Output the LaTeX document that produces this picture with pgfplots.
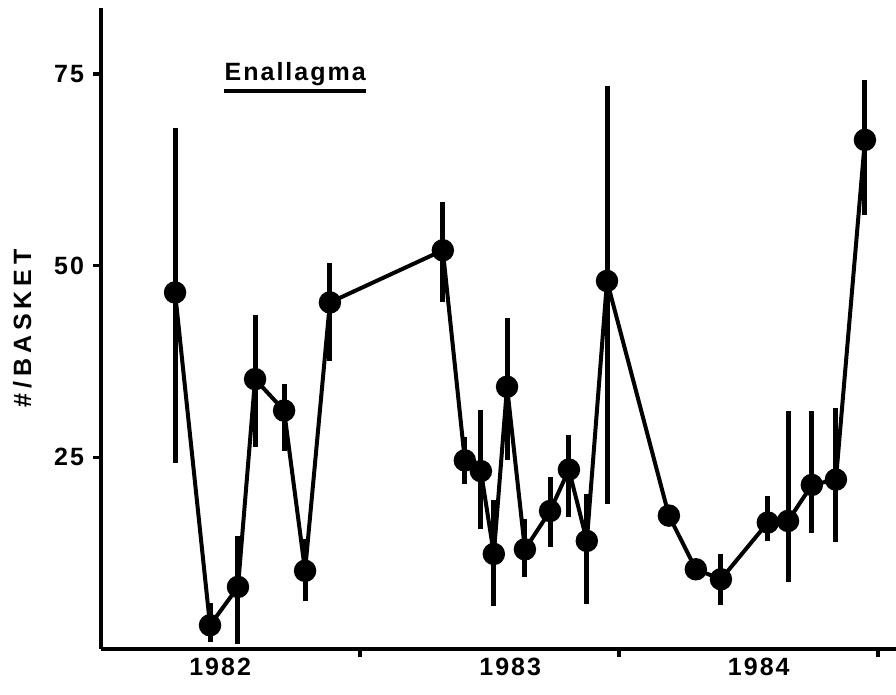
\documentclass[border=0pt]{standalone}
\usepackage{fontspec}
\setmainfont{Liberation Sans}[LetterSpace=8]
\usepackage{pgfplots}
\pgfplotsset{compat=1.18}

% samples: x (year), y (#/basket), error up / down
\pgfplotstableread{
x        y     ep    em
1982.286 46.5  21.5  22.2
1982.421  3.1   2.9   2.2
1982.529  8.1   6.7   7.4
1982.595 35.2   8.4   8.8
1982.707 31.1   3.4   5.3
1982.788 10.2   4.1   3.9
1982.884 45.2   5.2   7.7
1983.320 52.0   6.3   6.8
1983.405 24.6   3.0   3.1
1983.467 23.2   8.0   7.6
1983.517 12.4   7.1   6.8
1983.568 34.2   9.0   9.5
1983.637 13.0   3.9   3.6
1983.734 18.0   4.4   4.7
1983.807 23.4   4.5   6.2
1983.876 14.1   6.1   8.2
1983.954 48.0  25.4  29.1
1984.193 17.4   0.0   0.0
1984.297 10.4   0.0   0.0
1984.394  9.1   3.3   3.4
1984.575 16.5   3.4   2.4
1984.653 16.7  14.4   8.0
1984.745 21.4   9.7   6.3
1984.838 22.1   9.3   8.2
1984.950 66.4   7.8   9.8
}\enallagma

\begin{document}
\begin{tikzpicture}
\begin{axis}[
    scale only axis,
    width=397.5pt, height=320.5pt,
    xmin=1982, xmax=1985.07,
    ymin=0, ymax=83.6,
    axis x line=bottom, axis y line=left,
    axis line style={-, line width=2pt},
    tick align=outside,
    major tick length=4pt,
    tick style={line width=1.8pt, black},
    xtick={1983,1984,1985},
    xticklabels={},
    extra x ticks={1982.46,1983.58,1984.54},
    extra x tick labels={1982,1983,1984},
    extra x tick style={major tick length=0pt, tick style={draw=none}},
    ytick={25,50,75},
    /pgf/number format/assume math mode=true,
    ticklabel style={font=\fontsize{12.5}{14}\selectfont\bfseries},
    xticklabel style={yshift=-1pt},
    yticklabel style={xshift=-1pt},
    ylabel={\#/BASKET},
    ylabel style={font=\fontsize{12.5}{14}\selectfont\bfseries\addfontfeature{LetterSpace=20},
        at={(axis description cs:-0.099,0.5)}, anchor=center},
    clip=false,
]
\addplot[black, line width=2pt, mark=*, mark size=4.6pt,
    error bars/.cd, y dir=both, y explicit,
    error mark=none,
    error bar style={line width=2.5pt}]
    table[x=x, y=y, y error plus=ep, y error minus=em] {\enallagma};
\node[font=\fontsize{12.5}{14}\selectfont\bfseries, inner sep=0pt] (ttl) at (axis cs:1982.75,75) {Enallagma};
\draw[line width=1.6pt] ([yshift=-2.5pt]ttl.south west) -- ([yshift=-2.5pt]ttl.south east);
\coordinate (bl) at (rel axis cs:0,0);
\coordinate (tr) at (rel axis cs:1,1);
\end{axis}
\pgfresetboundingbox
\path[use as bounding box] ([xshift=-50.5pt,yshift=-22.5pt]bl) rectangle ([yshift=4pt]tr);
\end{tikzpicture}
\end{document}
